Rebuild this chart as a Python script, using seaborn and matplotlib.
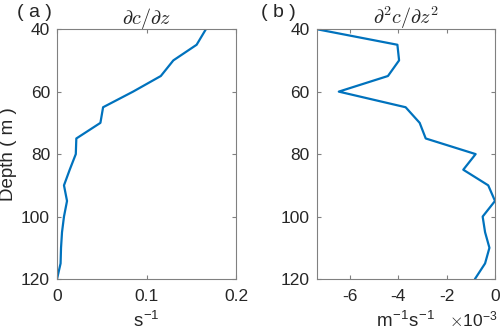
import numpy as np
import pandas as pd
import matplotlib
matplotlib.use("Agg")
import matplotlib.pyplot as plt
import seaborn as sns

# depth levels (m)
depth = [40, 45, 50, 55, 60, 65, 70, 75, 80, 85, 90, 95, 100, 105, 110, 115, 120]
# first derivative dc/dz (s^-1)
dcdz = [0.1664, 0.156, 0.130, 0.116, 0.085, 0.0515, 0.0485, 0.0216, 0.021, 0.0142,
        0.0078, 0.0112, 0.0078, 0.0056, 0.0045, 0.004, 0.0]
# second derivative d2c/dz2 (x1e-3 m^-1 s^-1)
d2cdz2 = [-7.37, -4.03, -3.96, -4.42, -6.45, -3.69, -3.11, -2.86, -0.80, -1.31,
          -0.28, 0.0, -0.51, -0.41, -0.23, -0.41, -0.83]

sns.set_style("ticks")
plt.rcParams['font.family'] = ['Liberation Sans', 'DejaVu Sans']
plt.rcParams['mathtext.fontset'] = 'cm'

LINE = '#0072BD'
SPINE = '#808080'
TXT = '#262626'

df = pd.DataFrame({'depth': depth, 'dcdz': dcdz, 'd2cdz2': d2cdz2})

fig = plt.figure(figsize=(5, 3.35), dpi=100)
ax1 = fig.add_axes([0.114, 0.167, 0.358, 0.746])
ax2 = fig.add_axes([0.633, 0.167, 0.357, 0.746])

sns.lineplot(data=df, x='dcdz', y='depth', orient='y', sort=False,
             color=LINE, lw=1.6, ax=ax1)
sns.lineplot(data=df, x='d2cdz2', y='depth', orient='y', sort=False,
             color=LINE, lw=1.6, ax=ax2)

ax1.set_xlim(0, 0.2)
ax1.set_xticks([0, 0.1, 0.2])
ax1.set_xticklabels(['0', '0.1', '0.2'])
ax2.set_xlim(min(d2cdz2), 0)
ax2.set_xticks([-6, -4, -2, 0])
ax2.set_xticklabels(['-6', '-4', '-2', '0'])

for ax in (ax1, ax2):
    ax.set_ylim(120, 40)
    ax.set_yticks([40, 60, 80, 100, 120])
    ax.tick_params(direction='in', top=True, right=True, length=3,
                   labelsize=12.5, color=SPINE, labelcolor=TXT)
    ax.tick_params(axis='x', pad=7)
    ax.tick_params(axis='y', pad=5)
    for s in ax.spines.values():
        s.set_color(SPINE)
        s.set_linewidth(0.8)
    ax.set_ylabel('')
    ax.set_xlabel('')

ax1.set_ylabel('Depth ( m )', fontsize=13.5, labelpad=3, color=TXT)
ax1.set_xlabel('s$^{\\mathregular{-1}}$', fontsize=13.5, labelpad=5, color=TXT)
ax2.set_xlabel('m$^{\\mathregular{-1}}$s$^{\\mathregular{-1}}$', fontsize=13.5, labelpad=5, color=TXT)
fig.text(0.995, 0.043, '$\\times$10$^{\\mathregular{-3}}$', ha='right', va='center',
         fontsize=12.5, color=TXT)

ax1.set_title('$\\partial c/\\partial z$', fontsize=14.5, pad=4)
ax2.set_title('$\\partial^2 c/\\partial z^2$', fontsize=14.5, pad=4)
fig.text(0.034, 0.962, '( a )', fontsize=14, va='center', color=TXT)
fig.text(0.522, 0.962, '( b )', fontsize=14, va='center', color=TXT)

fig.savefig('out.png', dpi=100)
